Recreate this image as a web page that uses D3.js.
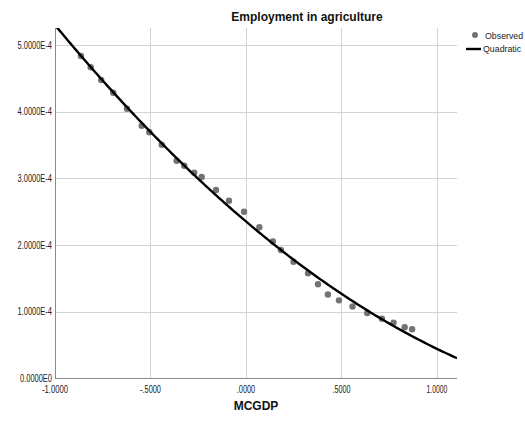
<!DOCTYPE html>
<html><head><meta charset="utf-8">
<script src="https://cdn.jsdelivr.net/npm/d3@7"></script>
<style>body{margin:0;background:#fff;}svg{display:block;font-family:"Liberation Sans",Arial,sans-serif;}</style>
</head><body>
<script>
// Observed data (MCGDP vs Employment in agriculture)
const mcgdp = [-0.864,-0.813,-0.758,-0.695,-0.623,-0.546,-0.506,-0.441,-0.363,-0.323,-0.271,-0.232,-0.157,-0.089,-0.010,0.070,0.141,0.183,0.249,0.325,0.377,0.429,0.487,0.558,0.635,0.712,0.773,0.831,0.870];
const employment = [4.835e-4,4.666e-4,4.475e-4,4.285e-4,4.045e-4,3.790e-4,3.691e-4,3.505e-4,3.265e-4,3.190e-4,3.085e-4,3.021e-4,2.826e-4,2.666e-4,2.501e-4,2.267e-4,2.054e-4,1.927e-4,1.751e-4,1.577e-4,1.414e-4,1.259e-4,1.172e-4,1.079e-4,0.982e-4,0.897e-4,0.835e-4,0.769e-4,0.739e-4];
const xTicks = [-1, -0.5, 0, 0.5, 1];
const xTickLabels = ["-1.0000", "-.5000", ".0000", ".5000", "1.0000"];
const yTicks = [0, 1e-4, 2e-4, 3e-4, 4e-4, 5e-4];
const yTickLabels = ["0.0000E0", "1.0000E-4", "2.0000E-4", "3.0000E-4", "4.0000E-4", "5.0000E-4"];
const legendLabels = ["Observed", "Quadratic"];

const W = 525, H = 423;
const svg = d3.select("body").append("svg").attr("width", W).attr("height", H);
const x = d3.scaleLinear().domain([-1, 1.105]).range([55, 457]);
const y = d3.scaleLinear().domain([0, 5.255e-4]).range([378.5, 28]);

// Quadratic least-squares fit of the observed data
function quadFit(xs, ys) {
  let S = [0,0,0,0,0], T = [0,0,0];
  xs.forEach((xi, i) => {
    let p = 1;
    for (let k = 0; k < 5; k++) { S[k] += p; if (k < 3) T[k] += p * ys[i]; p *= xi; }
  });
  const A = [[S[0],S[1],S[2],T[0]],[S[1],S[2],S[3],T[1]],[S[2],S[3],S[4],T[2]]];
  for (let i = 0; i < 3; i++) {
    for (let j = i + 1; j < 3; j++) {
      const f = A[j][i] / A[i][i];
      for (let k = i; k < 4; k++) A[j][k] -= f * A[i][k];
    }
  }
  const c = [0,0,0];
  for (let i = 2; i >= 0; i--) {
    let s = A[i][3];
    for (let k = i + 1; k < 3; k++) s -= A[i][k] * c[k];
    c[i] = s / A[i][i];
  }
  return c;
}
const coef = quadFit(mcgdp, employment);

// grid
const g = svg.append("g");
g.selectAll(".hg").data(yTicks.slice(1)).join("line")
  .attr("x1", x.range()[0]).attr("x2", x.range()[1])
  .attr("y1", d => Math.round(y(d)) + 0.5).attr("y2", d => Math.round(y(d)) + 0.5)
  .attr("stroke", "#d4d4d4").attr("stroke-width", 1);
g.selectAll(".vg").data(xTicks.slice(1)).join("line")
  .attr("y1", y.range()[0]).attr("y2", y.range()[1])
  .attr("x1", d => Math.round(x(d)) + 0.5).attr("x2", d => Math.round(x(d)) + 0.5)
  .attr("stroke", "#d4d4d4").attr("stroke-width", 1);

// axes lines
svg.append("line").attr("x1", 55.5).attr("x2", 55.5).attr("y1", 28).attr("y2", 379)
  .attr("stroke", "#8a8a8a").attr("stroke-width", 1);
svg.append("line").attr("x1", 55).attr("x2", 457).attr("y1", 378.5).attr("y2", 378.5)
  .attr("stroke", "#8a8a8a").attr("stroke-width", 1);

// tick labels (condensed, like the original)
svg.selectAll(".yl").data(yTicks).join("text")
  .attr("x", 52).attr("y", d => y(d)).attr("dy", "0.35em")
  .attr("text-anchor", "end").attr("font-size", 10).attr("fill", "#222")
  .attr("textLength", (d, i) => i === 0 ? 32 : 34.5).attr("lengthAdjust", "spacingAndGlyphs")
  .text((d, i) => yTickLabels[i]);
const xLabLen = [26, 21, 18.5, 18, 21];
svg.selectAll(".xl").data(xTicks).join("text")
  .attr("x", d => x(d)).attr("y", 393)
  .attr("text-anchor", "middle").attr("font-size", 10).attr("fill", "#222")
  .attr("textLength", (d, i) => xLabLen[i]).attr("lengthAdjust", "spacingAndGlyphs")
  .text((d, i) => xTickLabels[i]);

// clip
svg.append("clipPath").attr("id", "clip").append("rect")
  .attr("x", 55).attr("y", 28).attr("width", 402).attr("height", 350.5);

// points
svg.append("g").selectAll("circle").data(mcgdp).join("circle")
  .attr("cx", d => x(d)).attr("cy", (d, i) => y(employment[i])).attr("r", 3.2)
  .attr("fill", "#737373");

// quadratic curve
const curveX = d3.range(0, 201).map(i => -1.05 + i * (1.105 + 1.05) / 200);
const line = d3.line().x(d => x(d)).y(d => y(coef[0] + coef[1] * d + coef[2] * d * d));
svg.append("path").datum(curveX).attr("d", line).attr("clip-path", "url(#clip)")
  .attr("fill", "none").attr("stroke", "#000").attr("stroke-width", 2.4);

// titles
svg.append("text").attr("x", 307).attr("y", 21).attr("text-anchor", "middle")
  .attr("font-size", 12).attr("font-weight", "bold").attr("fill", "#111")
  .text("Employment in agriculture");
svg.append("text").attr("x", 256).attr("y", 410).attr("text-anchor", "middle")
  .attr("font-size", 12).attr("font-weight", "bold").attr("fill", "#111")
  .text("MCGDP");

// legend
svg.append("circle").attr("cx", 475).attr("cy", 35).attr("r", 3).attr("fill", "#737373");
svg.append("line").attr("x1", 466).attr("x2", 481).attr("y1", 49).attr("y2", 49)
  .attr("stroke", "#000").attr("stroke-width", 2.4);
svg.append("text").attr("x", 485).attr("y", 36).attr("dy", "0.35em").attr("font-size", 8.8).attr("fill", "#222")
  .text(legendLabels[0]);
svg.append("text").attr("x", 483).attr("y", 49).attr("dy", "0.35em").attr("font-size", 8.8).attr("fill", "#222")
  .text(legendLabels[1]);
</script>
</body></html>
